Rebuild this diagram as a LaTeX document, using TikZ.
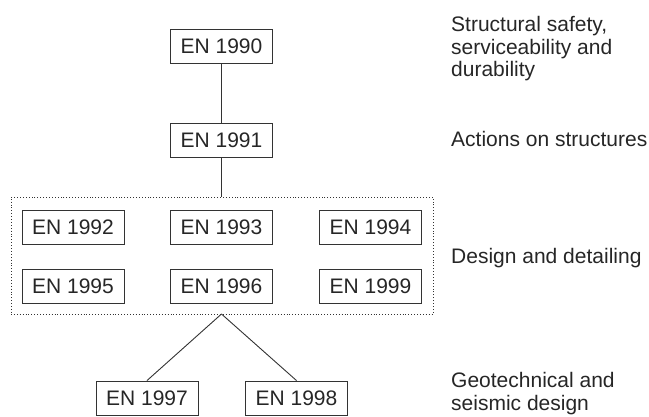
\documentclass[tikz,border=0pt]{standalone}
\usepackage{fontspec}
\setmainfont{Liberation Sans}
\begin{document}
\begin{tikzpicture}[x=1pt,y=-1pt,
  en/.style={draw=black!80, line width=0.9pt, minimum width=102pt, minimum height=34pt, inner sep=0pt, text=black!85, font=\fontsize{21}{23}\selectfont},
  lbl/.style={anchor=base west, inner sep=0pt, text=black!85, font=\fontsize{21}{23}\selectfont},
  conn/.style={draw=black!80, line width=0.9pt}]
\useasboundingbox (0,0) rectangle (649,417);
\node[en] (n90) at (221.5,46) {EN 1990};
\node[en] (n91) at (221.5,140) {EN 1991};
\node[en] (n92) at (73,227) {EN 1992};
\node[en] (n93) at (221.5,227) {EN 1993};
\node[en] (n94) at (370.5,227) {EN 1994};
\node[en] (n95) at (73,286.5) {EN 1995};
\node[en] (n96) at (221.5,286.5) {EN 1996};
\node[en] (n99) at (370.5,286.5) {EN 1999};
\node[en] (n97) at (147,398) {EN 1997};
\node[en] (n98) at (296.5,398) {EN 1998};
\node[draw=black!80, dotted, line width=0.9pt, inner sep=0pt, minimum width=422pt, minimum height=117pt] (grp) at (222,255.5) {};
\coordinate (gtop) at (221.5,197);
\coordinate (gbot) at (221.5,314);
\draw[conn] (n90) -- (n91);
\draw[conn] (n91) -- (gtop);
\draw[conn] (gbot) -- (n97.north);
\draw[conn] (gbot) -- (n98.north);
\node[lbl] (t1a) at (451,32) {Structural safety,};
\node[lbl] (t1b) at (451,54.5) {serviceability and};
\node[lbl] (t1c) at (451,77) {durability};
\node[lbl] (t2) at (451,147) {Actions on structures};
\node[lbl] (t3) at (451,264) {Design and detailing};
\node[lbl] (t4a) at (451,387) {Geotechnical and};
\node[lbl] (t4b) at (451,410) {seismic design};
\end{tikzpicture}
\end{document}
